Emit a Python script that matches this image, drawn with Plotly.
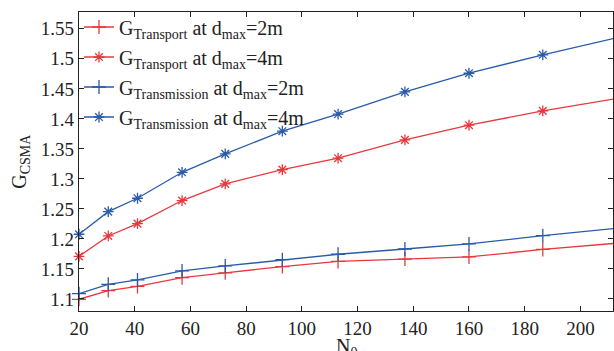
import plotly.graph_objects as go

n0 = [20, 30.5, 41, 57, 72.5, 93, 113, 137, 160, 186.5, 212]
transport_2m = [1.0995, 1.114, 1.121, 1.1355, 1.1435, 1.154, 1.1625, 1.1665, 1.17, 1.1825, 1.1925]
transport_4m = [1.171, 1.205, 1.2255, 1.264, 1.2917, 1.3155, 1.3345, 1.365, 1.3895, 1.4133, 1.433]
transmission_2m = [1.1088, 1.1245, 1.1317, 1.1467, 1.155, 1.1655, 1.1745, 1.1833, 1.1917, 1.2055, 1.2172]
transmission_4m = [1.2078, 1.2455, 1.2678, 1.311, 1.3417, 1.3795, 1.408, 1.445, 1.476, 1.5067, 1.5339]

yticks = [1.1, 1.15, 1.2, 1.25, 1.3, 1.35, 1.4, 1.45, 1.5, 1.55]
ytick_text = ["1.1", "1.15", "1.2", "1.25", "1.3", "1.35", "1.4", "1.45", "1.5", "1.55"]
xticks = [20, 40, 60, 80, 100, 120, 140, 160, 180, 200]

RED = "#e8383d"
BLUE = "#2a5ba8"
FONT = "Liberation Serif"

series = [
    ("G<sub>Transport</sub> at d<sub>max</sub>=2m", transport_2m, RED, "cross-thin"),
    ("G<sub>Transport</sub> at d<sub>max</sub>=4m", transport_4m, RED, "asterisk"),
    ("G<sub>Transmission</sub> at d<sub>max</sub>=2m", transmission_2m, BLUE, "cross-thin"),
    ("G<sub>Transmission</sub> at d<sub>max</sub>=4m", transmission_4m, BLUE, "asterisk"),
]

fig = go.Figure()
for i, (name, ys, col, sym) in enumerate(series):
    fig.add_trace(go.Scatter(
        x=n0, y=ys, name=name, mode="lines+markers", legendgroup=f"g{i}",
        line=dict(color=col, width=1.3),
        marker=dict(symbol=sym, size=10 if sym == "cross-thin" else 9,
                    color=col, line=dict(color=col, width=1.3)),
        cliponaxis=False,
    ))

axis_common = dict(
    showline=True, linecolor="#222", linewidth=1.2, mirror="ticks",
    ticks="inside", ticklen=5, tickcolor="#222", tickwidth=1,
    showgrid=False, zeroline=False, automargin=False,
    tickfont=dict(family=FONT, size=19, color="#222"),
)

fig.update_layout(
    width=614, height=351,
    margin=dict(l=79, r=1, t=12, b=40),
    paper_bgcolor="white", plot_bgcolor="white",
    font=dict(family=FONT, size=19, color="#222"),
    showlegend=True,
    legend=dict(x=0.0, y=1.015, xanchor="left", yanchor="top",
                bgcolor="rgba(255,255,255,0)", borderwidth=0,
                font=dict(family=FONT, size=20, color="#222"),
                tracegroupgap=1, itemwidth=30),
    xaxis=dict(range=[20, 211.7], tickvals=xticks, **axis_common),
    yaxis=dict(range=[1.08, 1.578], tickvals=yticks, ticktext=ytick_text, **axis_common),
    annotations=[
        dict(text="N<sub>0</sub>", x=0.5, y=-0.075, xref="x domain", yref="y domain",
             xanchor="center", yanchor="top", showarrow=False,
             font=dict(family=FONT, size=20, color="#222")),
        dict(text="G<sub>CSMA</sub>", x=-0.11, y=0.5, xref="x domain", yref="y domain",
             xanchor="center", yanchor="middle", showarrow=False, textangle=-90,
             font=dict(family=FONT, size=20, color="#222")),
    ],
)

fig.write_html(
    "out.html",
    config={"displayModeBar": False},
    post_script="document.body.style.margin='0';document.body.style.overflow='hidden';",
)
